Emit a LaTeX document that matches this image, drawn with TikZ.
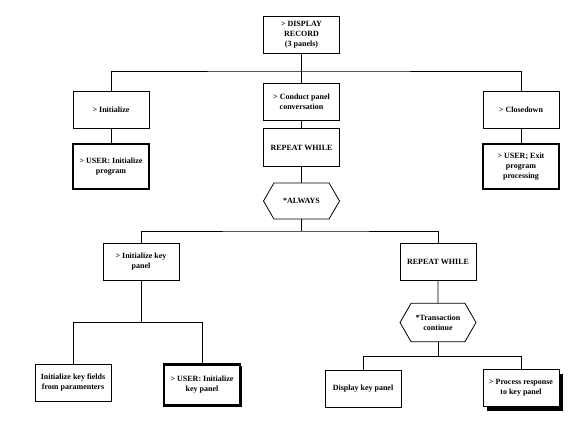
\documentclass[tikz,border=0pt]{standalone}
\usepackage{fontspec}
\setmainfont{Liberation Serif}
\usetikzlibrary{shapes.symbols,shadows}

\tikzset{
  box/.style={draw, line width=0.6pt, fill=white, align=center,
    minimum width=57pt, minimum height=27.75pt, inner sep=1pt,
    font=\fontsize{6}{7.5}\selectfont\bfseries},
  userbox/.style={box, line width=2.2pt},
  loopbox/.style={box, signal, signal to=west and east, signal pointer angle=120},
  shadowed/.style={drop shadow={shadow xshift=3pt, shadow yshift=-3pt, fill=black, opacity=1}},
  link/.style={line width=0.6pt}
}

\begin{document}
\begin{tikzpicture}[x=0.75pt, y=-0.75pt]
  \useasboundingbox (0,0) rectangle (580,422);

  % Top of the chart
  \node[box] (record) at (301.5,34.5) {> DISPLAY\\RECORD\\(3 panels)};

  % Second level
  \node[box] (init) at (111,109.5) {> Initialize};
  \node[userbox, minimum height=33.75pt] (userinit) at (111,166.5) {> USER: Initialize\\program};
  \node[box] (conduct) at (301.5,102) {> Conduct panel\\conversation};
  \node[box, minimum height=29pt] (repeat) at (301.5,147.5) {REPEAT WHILE};
  \node[loopbox, minimum height=27pt] (always) at (301.5,201) {*ALWAYS};
  \node[box] (close) at (521,109.5) {> Closedown};
  \node[userbox, minimum height=33.75pt] (userexit) at (521,166.5) {> USER; Exit\\program\\processing};

  % Third level
  \node[box] (initkey) at (141,261.5) {> Initialize key\\panel};
  \node[box] (repeatkey) at (438,261.5) {REPEAT WHILE};
  \node[loopbox, minimum height=29pt] (trans) at (438,322.5) {*Transaction\\continue};

  % Bottom row
  \node[box] (fields) at (73,383) {Initialize key fields\\from paramenters};
  \node[userbox, minimum height=31pt, drop shadow={shadow xshift=1.2pt, shadow yshift=-1.2pt, fill=black, opacity=1}] (userkey) at (202,385) {> USER: Initialize\\key panel};
  \node[box] (showkey) at (363,389) {Display key panel};
  \node[box, shadowed] (process) at (521,388) {> Process response\\to key panel};

  % Connectors
  \coordinate (bus1) at (301.5,71);
  \coordinate (bus2) at (301.5,231);
  \coordinate (bus3) at (141,322);
  \coordinate (bus4) at (438,356);

  \draw[link] (record) -- (conduct);
  \draw[link] (init.north) |- (bus1) -| (close.north);
  \draw[link] (init) -- (userinit);
  \draw[link] (conduct) -- (repeat);
  \draw[link] (repeat) -- (always);
  \draw[link] (close) -- (userexit);

  \draw[link] (always.south) -- (bus2);
  \draw[link] (initkey.north) |- (bus2) -| (repeatkey.north);
  \draw[link] (initkey.south) -- (bus3);
  \draw[link] (fields.north) |- (bus3) -| (userkey.north);
  \draw[link] (repeatkey) -- (trans);
  \draw[link] (trans.south) -- (bus4);
  \draw[link] (showkey.north) |- (bus4) -| (process.north);
\end{tikzpicture}
\end{document}
